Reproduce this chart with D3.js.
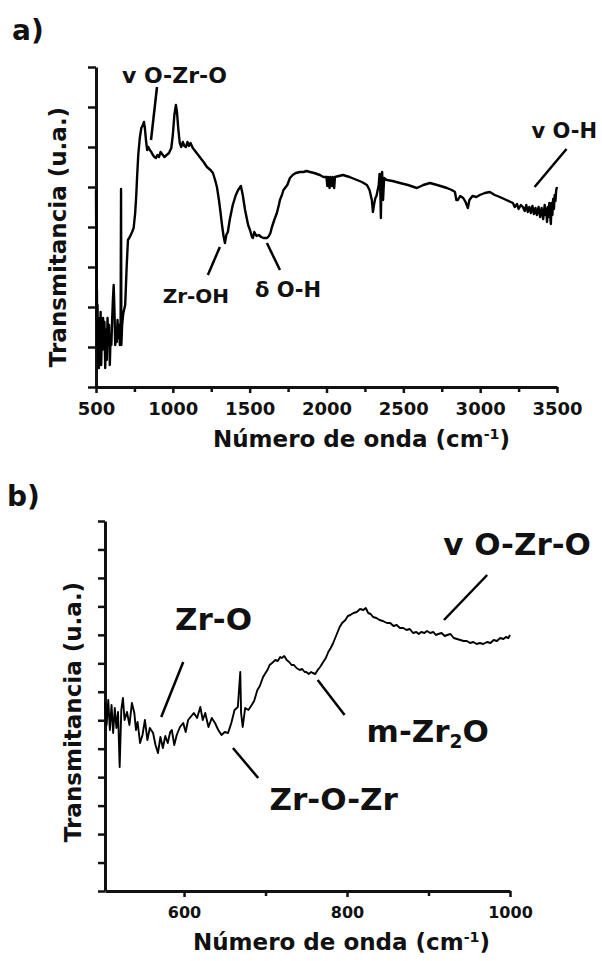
<!DOCTYPE html>
<html>
<head>
<meta charset="utf-8">
<script src="https://cdn.jsdelivr.net/npm/d3@7"></script>
<style>
  html, body { margin: 0; padding: 0; background: #fff; }
  svg { display: block; }
  text { font-family: "DejaVu Sans", Verdana, sans-serif; font-weight: bold; fill: #111; }
</style>
</head>
<body>
<svg id="chart" width="602" height="961"></svg>
<script>
// ---------- Panel a: FTIR spectrum (wavenumber, transmittance in a.u.) ----------
const aWavenumber = [500,502,504,506,508,510,513,516,519,522,526,530,534,538,542,546,550,555,560,565,570,575,580,585,590,595,600,605,610,615,620,625,630,635,640,645,650,655,660,663,665,670,678,690,700,708,720,735,745,755,762,768,775,785,795,805,812,818,825,833,840,850,860,870,880,890,900,910,920,930,945,960,975,990,1000,1010,1020,1027,1035,1045,1055,1065,1075,1085,1095,1105,1115,1130,1150,1175,1200,1222,1245,1261,1275,1287,1300,1310,1320,1330,1339,1348,1358,1370,1390,1410,1425,1443,1455,1470,1490,1502,1515,1521,1530,1545,1560,1575,1590,1605,1613,1625,1635,1645,1660,1677,1690,1697,1710,1720,1730,1745,1762,1780,1800,1827,1850,1870,1892,1920,1957,1980,2000,2005,2010,2020,2025,2035,2040,2050,2055,2080,2107,2150,2198,2230,2263,2280,2295,2302,2310,2318,2325,2340,2345,2350,2354,2358,2362,2368,2375,2393,2430,2478,2530,2588,2630,2673,2720,2784,2815,2836,2845,2855,2870,2890,2905,2920,2930,2950,2975,2998,3030,3063,3095,3128,3170,3213,3225,3240,3250,3265,3278,3290,3300,3310,3320,3330,3340,3350,3360,3369,3380,3390,3400,3410,3420,3425,3430,3435,3440,3445,3450,3455,3460,3465,3470,3475,3480,3485,3490,3495,3500];
const aTransmittance = [197,137,67,97,42,82,25,69,19,57,32,75,22,62,37,69,47,65,19,57,27,69,42,62,22,52,42,67,87,102,77,42,57,45,67,49,62,42,57,198,42,62,74,82,122,147,150,155,159,174,192,212,232,249,259,262,265,259,247,237,240,237,235,232,230,229,232,230,235,233,230,232,234,239,252,272,282,275,259,244,240,245,241,240,245,241,244,239,235,230,225,220,217,214,207,200,187,175,162,151,144,152,155,167,182,192,197,201,192,177,162,157,150,149,155,151,152,150,149,149,149,151,154,160,167,174,182,187,192,197,199,202,209,212,214,215,215,216,215,214,212,210,210,201,210,199,210,201,210,199,210,211,212,210,207,205,202,197,187,175,183,189,191,202,213,197,169,212,215,187,209,207,206,204,202,199,202,204,202,199,197,195,187,187,191,189,185,179,187,191,190,192,194,195,192,190,187,184,180,183,178,182,180,176,182,175,180,174,181,173,179,172,180,170,179,168,182,172,178,165,180,170,184,172,163,184,172,188,178,192,186,197,200];
const aXMajor = [500,1000,1500,2000,2500,3000,3500];
const aXMinor = [750,1250,1750,2250,2750,3250];
const aYTicks = [0,40,80,120,160,200,240,280,320];

// ---------- Panel b: low-wavenumber region ----------
const bWavenumber = [503,505,507,509,511,513,515,517,519,521,523,525,527,530,533,536,539,541,543,546,549,552,555,558,562,565,568,571,574,577,580,583,585,588,591,595,599,602,605,609,612,616,620,623,626,630,634,638,642,646,650,654,658,662,666,669,670,672,675,679,683,686,690,693,697,700,703,705,708,712,715,718,720,723,726,729,732,735,738,742,745,748,750,753,756,758,761,764,767,770,774,777,780,783,787,791,794,798,801,804,808,812,816,820,823,826,829,832,836,840,844,849,853,857,861,865,869,873,877,881,885,888,891,895,898,902,906,909,912,916,920,923,927,931,935,939,943,947,951,955,959,963,967,972,976,980,984,988,992,995,998,1000];
const bTransmittance = [188,166,191,161,186,158,183,163,179,124,181,193,171,179,166,188,178,161,169,148,156,171,151,163,158,146,138,154,143,155,148,159,161,146,156,164,168,159,171,175,178,173,184,171,178,164,173,168,161,156,159,158,168,181,184,219,178,164,183,181,186,190,201,205,214,218,222,226,228,231,230,234,233,235,231,229,226,226,223,221,222,219,219,217,219,218,217,221,224,228,233,239,243,248,256,264,268,271,275,276,278,279,282,281,283,278,277,274,273,271,270,268,268,265,266,263,263,261,262,258,259,257,259,258,260,258,259,256,257,258,255,256,257,253,252,251,250,250,248,249,247,248,247,249,248,251,250,253,252,254,253,256];
const bXMajor = [600,800,1000];
const bXMinor = [700,900];
const bYTicks = d3.range(0, 14).map(i => i * 370 / 13);

// Annotations [label, textWn, textVal, anchor, lineWn1, lineVal1, lineWn2, lineVal2, fontSize]
const aNotes = [
  ["v O-Zr-O", 669, 304, "start", 897, 300, 858, 247, 22],
  ["Zr-OH", 1150, 84, "middle", 1306, 140, 1228, 112, 20],
  ["δ O-H", 1534, 90, "start", 1612, 144, 1697, 117, 21],
  ["v O-H", 3334, 249, "start", 3354, 200, 3562, 238, 21]
];
const bNotes = [
  ["Zr-O", 589, 261, "start", 599, 229, 572, 174, 31],
  ["v O-Zr-O", 918, 336, "start", 972, 316, 919, 271, 31],
  ["m-Zr|2|O", 824, 149, "start", 764, 211, 797, 176, 31],
  ["Zr-O-Zr", 705, 81, "start", 660, 143, 691, 113, 31]
];

const svg = d3.select("#chart");

function panel(opts) {
  const x = d3.scaleLinear().domain(opts.xDomain).range(opts.xRange);
  const y = d3.scaleLinear().domain(opts.yDomain).range(opts.yRange);
  const g = svg.append("g");

  g.append("g")
    .attr("transform", `translate(0,${opts.yRange[0]})`)
    .call(d3.axisBottom(x).tickValues(opts.xMinor).tickSize(opts.minorSize).tickFormat("").tickSizeOuter(0))
    .call(s => s.select(".domain").remove())
    .call(s => s.selectAll("line").attr("stroke", "#111").attr("stroke-width", 2.5));
  const xa = g.append("g")
    .attr("transform", `translate(0,${opts.yRange[0]})`)
    .call(d3.axisBottom(x).tickValues(opts.xMajor).tickSize(opts.majorSize).tickPadding(opts.tickPad).tickSizeOuter(0).tickFormat(d3.format("d")));
  xa.select(".domain").attr("stroke", "#111").attr("stroke-width", 3);
  xa.selectAll("line").attr("stroke", "#111").attr("stroke-width", 2.5);
  xa.selectAll("text").style("font-size", opts.tickFont + "px").style("font-family", '"DejaVu Sans", sans-serif').style("font-weight", "bold").attr("fill", "#111");

  const ya = g.append("g")
    .attr("transform", `translate(${opts.xRange[0]},0)`)
    .call(d3.axisLeft(y).tickValues(opts.yTicks).tickSize(opts.yTickSize).tickFormat("").tickSizeOuter(0));
  ya.select(".domain").attr("stroke", "#111").attr("stroke-width", 3);
  ya.selectAll("line").attr("stroke", "#111").attr("stroke-width", 2.5);

  const data = opts.wn.map((w, i) => [w, opts.val[i]]);
  g.append("path")
    .datum(data)
    .attr("fill", "none")
    .attr("stroke", "#000")
    .attr("stroke-width", opts.lineWidth)
    .attr("stroke-linejoin", "round")
    .attr("d", d3.line().x(d => x(d[0])).y(d => y(d[1])));

  opts.notes.forEach(n => {
    g.append("line")
      .attr("x1", x(n[4])).attr("y1", y(n[5]))
      .attr("x2", x(n[6])).attr("y2", y(n[7]))
      .attr("stroke", "#000").attr("stroke-width", opts.leaderWidth);
    const t = g.append("text")
      .attr("x", x(n[1])).attr("y", y(n[2]))
      .attr("text-anchor", n[3])
      .style("font-size", n[8] + "px");
    const parts = n[0].split("|");
    if (parts.length === 3) {
      t.append("tspan").text(parts[0]);
      t.append("tspan").attr("dy", "0.3em").style("font-size", (n[8] * 0.6) + "px").text(parts[1]);
      t.append("tspan").attr("dy", "-0.18em").text(parts[2]);
    } else {
      t.text(n[0]);
    }
  });

  const xt = svg.append("text")
    .attr("x", opts.xTitle[0]).attr("y", opts.xTitle[1])
    .style("font-size", opts.titleFont + "px");
  xt.append("tspan").text("Número de onda (cm");
  xt.append("tspan").attr("dy", "-0.55em").style("font-size", (opts.titleFont * 0.62) + "px").text("-1");
  xt.append("tspan").attr("dy", "0.34em").text(")");

  svg.append("text")
    .attr("transform", `translate(${opts.yTitle[0]},${opts.yTitle[1]}) rotate(-90)`)
    .attr("text-anchor", "middle")
    .style("font-size", opts.titleFont + "px")
    .text("Transmitancia (u.a.)");

  svg.append("text")
    .attr("x", opts.panelLabel[1]).attr("y", opts.panelLabel[2])
    .style("font-size", "28px")
    .text(opts.panelLabel[0]);
}

panel({
  xDomain: [500, 3500], xRange: [96, 557],
  yDomain: [0, 320], yRange: [387, 67],
  xMajor: aXMajor, xMinor: aXMinor, yTicks: aYTicks,
  majorSize: 6, minorSize: 5, tickPad: 9, tickFont: 18, yTickSize: 8,
  wn: aWavenumber, val: aTransmittance, lineWidth: 2.4,
  notes: aNotes, leaderWidth: 2.5,
  xTitle: [213, 447], yTitle: [66, 237], titleFont: 23,
  panelLabel: ["a)", 12, 40]
});

panel({
  xDomain: [503, 1000], xRange: [105, 510],
  yDomain: [0, 370], yRange: [891, 521],
  xMajor: bXMajor, xMinor: bXMinor, yTicks: bYTicks,
  majorSize: 6, minorSize: 5, tickPad: 10, tickFont: 16, yTickSize: 7,
  wn: bWavenumber, val: bTransmittance, lineWidth: 1.9,
  notes: bNotes, leaderWidth: 2.5,
  xTitle: [193, 950], yTitle: [81, 712], titleFont: 23,
  panelLabel: ["b)", 7, 506]
});
</script>
</body>
</html>
